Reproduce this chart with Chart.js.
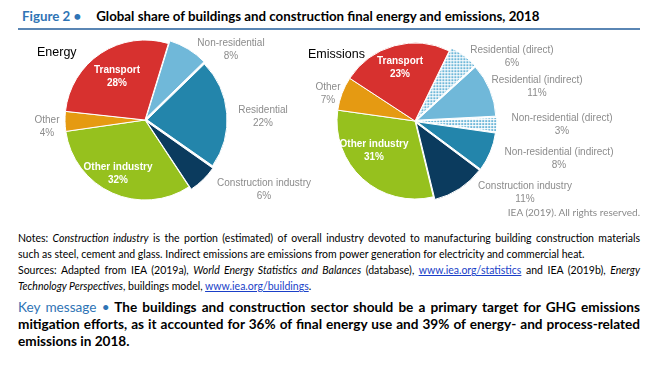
<!DOCTYPE html>
<html>
<head>
<meta charset="utf-8">
<script src="https://cdn.jsdelivr.net/npm/chart.js@4.4.1/dist/chart.umd.min.js"></script>
<style>
  body { margin: 0; background: #fff; }
  #page { position: relative; width: 656px; height: 365px; overflow: hidden; font-family: Lato, "Open Sans", sans-serif; color: #000; }
  #title { position: absolute; left: 22px; top: 8px; font-size: 13.3px; font-weight: bold; white-space: nowrap; }
  #title .fig { color: #2f74b5; display: inline-block; width: 71px; }
  #rule { position: absolute; left: 18px; top: 28px; width: 622px; height: 2px; background: #5a86b4; }
  canvas { position: absolute; top: 0; }
  #energyChart { left: 0; }
  #emissionsChart { left: 300px; }
  .head { position: absolute; font-family: "Liberation Sans", Arial, sans-serif; font-size: 12.5px; }
  #credit { position: absolute; right: 16px; top: 206px; font-size: 10px; color: #8a8a8a; }
  .txt { position: absolute; left: 18px; width: 622px; font-size: 10.5px; line-height: 16px; }
  .j { text-align: justify; text-align-last: justify; white-space: nowrap; }
  .key { position: absolute; left: 18px; width: 622px; font-size: 13.6px; line-height: 17px; font-weight: bold; }
  .key .blue { color: #2f74b5; font-weight: normal; }
  a { color: #1a3fc8; text-decoration: underline; }
</style>
</head>
<body>
<div id="page">
  <div id="title"><span class="fig">Figure 2 •</span> Global share of buildings and construction final energy and emissions, 2018</div>
  <div id="rule"></div>
  <canvas id="energyChart" width="328" height="225"></canvas>
  <canvas id="emissionsChart" width="356" height="225"></canvas>
  <div class="head" style="left:37px;top:45px;">Energy</div>
  <div class="head" style="left:308px;top:47px;">Emissions</div>
  <div id="credit">IEA (2019). All rights reserved.</div>
  <div class="txt" style="top:230px;">
    <div class="j">Notes: <i>Construction industry</i> is the portion (estimated) of overall industry devoted to manufacturing building construction materials</div>
    <div>such as steel, cement and glass. Indirect emissions are emissions from power generation for electricity and commercial heat.</div>
  </div>
  <div class="txt" style="top:262px;">
    <div class="j">Sources: Adapted from IEA (2019a), <i>World Energy Statistics and Balances</i> (database), <a>www.iea.org/statistics</a> and IEA (2019b), <i>Energy</i></div>
    <div><i>Technology Perspectives</i>, buildings model, <a>www.iea.org/buildings</a>.</div>
  </div>
  <div class="key" style="top:299px;">
    <div class="j"><span class="blue">Key message •</span> The buildings and construction sector should be a primary target for GHG emissions</div>
    <div class="j">mitigation efforts, as it accounted for 36% of final energy use and 39% of energy- and process-related</div>
    <div>emissions in 2018.</div>
  </div>
</div>
<script>
// energy shares, %
const energyLabels = ['Non-residential', 'Residential', 'Construction industry', 'Other industry', 'Other', 'Transport'];
const energyValues = [8, 22, 6, 32, 4, 28];

// emissions shares, %
const emissionLabels = ['Residential (direct)', 'Residential (indirect)', 'Non-residential (direct)', 'Non-residential (indirect)', 'Construction industry', 'Other industry', 'Other', 'Transport'];
const emissionValues = [6, 11, 3, 8, 11, 31, 7, 23];

const RED = '#d7312f', LIGHT = '#70b8d9', MID = '#2385ab', NAVY = '#0b3b5e', GREEN = '#96c11e', ORANGE = '#e59a12';

function dots(color) {
  const c = document.createElement('canvas');
  c.width = 3; c.height = 3;
  const g = c.getContext('2d');
  g.fillStyle = '#fff';
  g.fillRect(0, 0, 3, 3);
  g.fillStyle = color;
  g.fillRect(0, 0, 2, 2);
  return g.createPattern(c, 'repeat');
}

// label offsets are measured from the pie centre
function labelPlugin(pos, inside) {
  return {
    id: 'sliceLabels',
    afterDatasetsDraw(chart) {
      const ctx = chart.ctx;
      const ds = chart.data.datasets[0];
      const a = chart.chartArea;
      const cx = (a.left + a.right) / 2, cy = (a.top + a.bottom) / 2;
      ctx.save();
      ctx.textAlign = 'center';
      ctx.textBaseline = 'middle';
      chart.data.labels.forEach((lab, i) => {
        const x = cx + pos[i][0], y = cy + pos[i][1];
        if (inside[i]) {
          ctx.fillStyle = '#fff';
          ctx.font = 'bold 10px "Liberation Sans", Arial';
        } else {
          ctx.fillStyle = '#8c8c8c';
          ctx.font = '10px "Liberation Sans", Arial';
        }
        ctx.fillText(lab, x, y - 6);
        ctx.fillText(ds.data[i] + '%', x, y + 7);
      });
      ctx.restore();
    }
  };
}

function pie(id, labels, values, colors, offsets, radius, rotation, padding, pos, inside) {
  return new Chart(document.getElementById(id), {
    type: 'pie',
    data: {
      labels: labels,
      datasets: [{
        data: values,
        backgroundColor: colors,
        borderColor: '#fff',
        borderWidth: 1,
        offset: offsets,
        hoverOffset: 0
      }]
    },
    options: {
      responsive: false,
      animation: false,
      radius: radius,
      rotation: rotation,
      layout: { padding: padding },
      plugins: { legend: { display: false }, tooltip: { enabled: false } },
      events: []
    },
    plugins: [labelPlugin(pos, inside)]
  });
}

pie('energyChart', energyLabels, energyValues,
  [LIGHT, MID, NAVY, GREEN, ORANGE, RED],
  [8, 8, 8, 0, 0, 0], 80, 17,
  { left: 45, right: 83, top: 20, bottom: 5 },
  [[86, -71], [118, -4], [119, 69], [-27, 53], [-98, 6], [-28, -44]],
  [false, false, false, true, false, true]);

pie('emissionsChart', emissionLabels, emissionValues,
  [dots(LIGHT), LIGHT, dots(LIGHT), MID, NAVY, GREEN, ORANGE, RED],
  [9, 9, 9, 9, 9, 0, 0, 0], 78, 26,
  { left: 15, right: 141, top: 21, bottom: 4 },
  [[97, -65], [122, -35], [147, 3], [144, 37], [110, 71], [-41, 29], [-87, -28], [-15, -54]],
  [false, false, false, false, false, true, false, true]);
</script>
</body>
</html>
